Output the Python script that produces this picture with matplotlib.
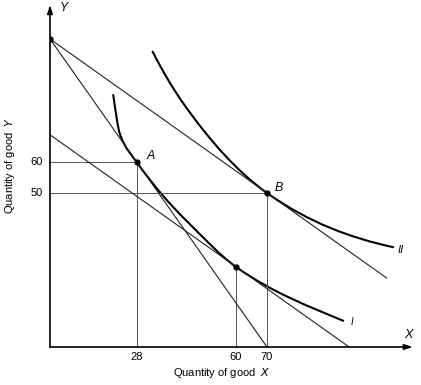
import matplotlib
matplotlib.use("Agg")
from matplotlib import pyplot as plt
from matplotlib.path import Path
from matplotlib.patches import PathPatch

plt.rcParams['font.family'] = ['Liberation Sans', 'DejaVu Sans']
plt.rcParams['font.size'] = 8

# Indifference curves: knots, with slope at each knot
curve1_x = [20.4, 22.6, 28, 44, 60, 94.6]
curve1_y = [81.8, 69.0, 60, 41, 26, 8.5]
curve1_slope = [-7.0, -2.8, -1.43, -0.99, -0.714, -0.42]

curve2_x = [33.1, 43.0, 70, 110.7]
curve2_y = [95.9, 79.1, 50, 32.4]
curve2_slope = [-2.0, -1.43, -0.714, -0.22]

# Budget lines (start, end)
budget_lines = [
    ((0, 100), (70, 0)),
    ((0, 100), (108.6, 22.4)),
    ((0, 68.9), (96.5, 0)),
]

# Points of tangency / intercept
pts_x = [0, 28, 70, 60]
pts_y = [100, 60, 50, 26]

x_ticks = [28, 60, 70]
y_ticks = [50, 60]


def smooth_path(xs, ys, slopes):
    verts = [(xs[0], ys[0])]
    codes = [Path.MOVETO]
    for i in range(len(xs) - 1):
        h = (xs[i + 1] - xs[i]) / 3.0
        verts += [(xs[i] + h, ys[i] + slopes[i] * h),
                  (xs[i + 1] - h, ys[i + 1] - slopes[i + 1] * h),
                  (xs[i + 1], ys[i + 1])]
        codes += [Path.CURVE4] * 3
    return Path(verts, codes)


fig = plt.figure(figsize=(4.21, 3.85), dpi=100)
ax = fig.add_axes([50 / 421, 38 / 385, 365.8 / 421, 345 / 385])
ax.set_xlim(0, 118)
ax.set_ylim(0, 112)
ax.axis('off')

# guide lines
guide = dict(color='#555555', lw=0.7)
ax.plot([0, pts_x[1], pts_x[1]], [pts_y[1], pts_y[1], 0], **guide)
ax.plot([0, pts_x[2], pts_x[2]], [pts_y[2], pts_y[2], 0], **guide)
ax.plot([pts_x[3], pts_x[3]], [pts_y[3], 0], **guide)

# budget lines
for (x0, y0), (x1, y1) in budget_lines:
    ax.plot([x0, x1], [y0, y1], color='#222222', lw=0.8)

# indifference curves
for xs, ys, sl in [(curve1_x, curve1_y, curve1_slope),
                   (curve2_x, curve2_y, curve2_slope)]:
    ax.add_patch(PathPatch(smooth_path(xs, ys, sl), fill=False,
                           edgecolor='black', lw=1.5, capstyle='round'))

ax.plot(pts_x, pts_y, 'o', color='black', ms=3.5, zorder=5)

# axes with arrows
arrow = dict(arrowstyle='-|>,head_length=0.6,head_width=0.2', color='black', lw=1.2,
             shrinkA=0, shrinkB=0)
ax.annotate('', xy=(0, 111), xytext=(0, 0), arrowprops=arrow, annotation_clip=False)
ax.annotate('', xy=(117, 0), xytext=(0, 0), arrowprops=arrow, annotation_clip=False)

# tick labels
for t in x_ticks:
    ax.text(t, -3.3, str(t), ha='center', va='center')
for t in y_ticks:
    ax.text(-2.3, t, str(t), ha='right', va='center')

ax.text(3, 110, 'Y', style='italic', fontsize=9, va='center')
ax.text(115.5, 4, 'X', style='italic', fontsize=9, ha='center', va='center')
ax.text(31.3, 62, 'A', style='italic', fontsize=9, va='center')
ax.text(72.5, 51.5, 'B', style='italic', fontsize=9, va='center')
ax.text(97, 8, 'I', style='italic', fontsize=7, va='center')
ax.text(112, 31.5, 'II', style='italic', fontsize=8, va='center')

ax.text(55.5, -8.6, r'Quantity of good  $\mathit{X}$', ha='center', va='center')
ax.text(-13, 59, r'Quantity of good  $\mathit{Y}$', ha='center', va='center',
        rotation=90)

fig.savefig('out.png', dpi=100)
